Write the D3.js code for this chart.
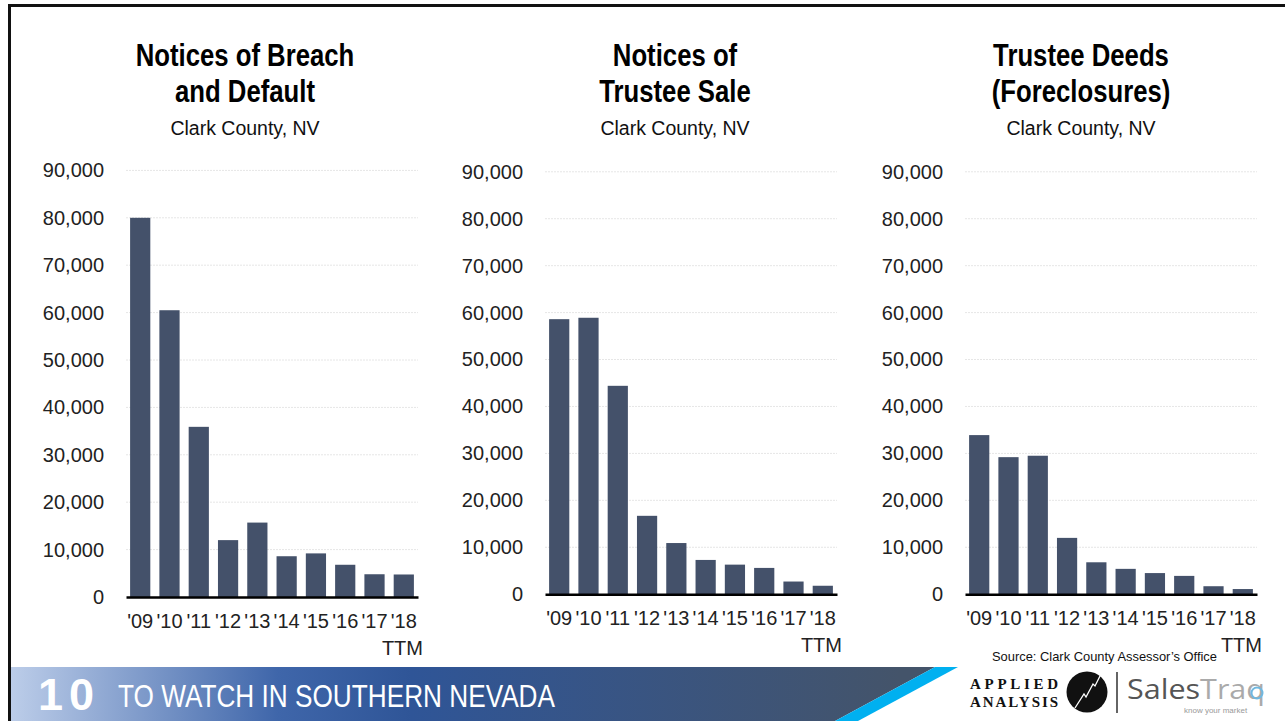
<!DOCTYPE html>
<html>
<head>
<meta charset="utf-8">
<script src="https://d3js.org/d3.v7.min.js"></script>
<style>
  html, body { margin: 0; padding: 0; background: #fff; }
  svg { display: block; font-family: "Liberation Sans", Arial, Helvetica, sans-serif; }
</style>
</head>
<body>
<script>
// data
var years = ["'09", "'10", "'11", "'12", "'13", "'14", "'15", "'16", "'17", "'18"];
var breachDefault = [80000, 60500, 35900, 12000, 15700, 8600, 9200, 6800, 4800, 4750];
var trusteeSale = [58600, 58900, 44400, 16700, 10900, 7300, 6300, 5600, 2700, 1800];
var trusteeDeeds = [33900, 29200, 29500, 12000, 6800, 5400, 4500, 3900, 1700, 1100];
var yTicks = [0, 10000, 20000, 30000, 40000, 50000, 60000, 70000, 80000, 90000];
var titles = [["Notices of Breach", "and Default"], ["Notices of", "Trustee Sale"], ["Trustee Deeds", "(Foreclosures)"]];
var subtitle = "Clark County, NV";

var W = 1285, H = 721;
var barColor = '#44516a';

var svg = d3.select('body').append('svg')
	.attr('width', W)
	.attr('height', H);

var defs = svg.append('defs');
var grad = defs.append('linearGradient')
	.attr('id', 'bannerGrad')
	.attr('gradientUnits', 'userSpaceOnUse')
	.attr('x1', 11).attr('x2', 900).attr('y1', 0).attr('y2', 0);
grad.append('stop').attr('offset', 0).attr('stop-color', '#bccde9');
grad.append('stop').attr('offset', 0.3).attr('stop-color', '#3f66aa');
grad.append('stop').attr('offset', 0.45).attr('stop-color', '#2f5597');
grad.append('stop').attr('offset', 1).attr('stop-color', '#44546a');

// panel layout
var panels = [
	{ data: breachDefault, x0: 126, x1: 418, base: 597, top: 170.4, titleX: 245 },
	{ data: trusteeSale, x0: 545, x1: 837, base: 594.2, top: 171.8, titleX: 675 },
	{ data: trusteeDeeds, x0: 965, x1: 1257, base: 594.2, top: 171.8, titleX: 1081 }
];

panels.forEach(function (p, pi) {
	var g = svg.append('g');

	var xScale = d3.scaleBand()
		.domain(years)
		.range([p.x0, p.x1])
		.paddingInner(0.31)
		.paddingOuter(0.14);
	var yScale = d3.scaleLinear()
		.domain([0, 90000])
		.range([p.base, p.top]);

	// titles
	var t = g.append('g').attr('transform', 'translate(' + p.titleX + ',0)');
	titles[pi].forEach(function (line, li) {
		t.append('text')
			.attr('transform', 'translate(0,' + (66 + li * 36) + ') scale(0.83,1)')
			.attr('text-anchor', 'middle')
			.style('font-size', '31px')
			.style('font-weight', 'bold')
			.attr('fill', '#000')
			.text(line);
	});
	t.append('text')
		.attr('y', 135)
		.attr('text-anchor', 'middle')
		.style('font-size', '19.5px')
		.attr('fill', '#111')
		.text(subtitle);

	// gridlines
	g.selectAll('.grid')
		.data(yTicks.slice(1))
		.enter()
		.append('line')
		.attr('class', 'grid')
		.attr('x1', p.x0)
		.attr('x2', p.x1)
		.attr('y1', function (d) { return yScale(d); })
		.attr('y2', function (d) { return yScale(d); })
		.attr('stroke', '#e6e6e6')
		.attr('stroke-width', 1)
		.attr('stroke-dasharray', '2,1');

	// y axis
	var yAxis = d3.axisLeft(yScale)
		.tickValues(yTicks)
		.tickSize(0)
		.tickPadding(22)
		.tickFormat(d3.format(','));
	var ya = g.append('g')
		.attr('transform', 'translate(' + p.x0 + ',0)')
		.call(yAxis);
	ya.select('.domain').remove();
	ya.selectAll('text')
		.style('font-size', '20px')
		.style('font-family', '"Liberation Sans", Arial, sans-serif')
		.attr('fill', '#222');

	// bars
	g.selectAll('.bar')
		.data(p.data)
		.enter()
		.append('rect')
		.attr('class', 'bar')
		.attr('x', function (d, i) { return xScale(years[i]); })
		.attr('y', function (d) { return yScale(d); })
		.attr('width', xScale.bandwidth())
		.attr('height', function (d) { return p.base - yScale(d); })
		.attr('fill', barColor);

	// x axis
	var xAxis = d3.axisBottom(xScale)
		.tickSize(0)
		.tickPadding(17);
	var xa = g.append('g')
		.attr('transform', 'translate(0,' + p.base + ')')
		.call(xAxis);
	xa.select('.domain')
		.attr('stroke', '#000')
		.attr('stroke-width', 2.5);
	xa.selectAll('text')
		.style('font-size', '20px')
		.style('font-family', '"Liberation Sans", Arial, sans-serif')
		.attr('fill', '#222');

	g.append('text')
		.attr('x', p.x1 + 5)
		.attr('y', p.base + 58)
		.attr('text-anchor', 'end')
		.style('font-size', '20px')
		.attr('fill', '#222')
		.text('TTM');
});

// source note
svg.append('text')
	.attr('x', 992)
	.attr('y', 661)
	.attr('textLength', 225)
	.attr('lengthAdjust', 'spacingAndGlyphs')
	.style('font-size', '13.5px')
	.attr('fill', '#111')
	.text('Source: Clark County Assessor\u2019s Office');

// banner
svg.append('polygon')
	.attr('points', '11,667 935,667 835,721 11,721')
	.attr('fill', 'url(#bannerGrad)');
svg.append('polygon')
	.attr('points', '935,667 958,667 858,721 835,721')
	.attr('fill', '#00b0f0');
svg.append('text')
	.attr('x', 38)
	.attr('y', 710)
	.style('font-size', '45px')
	.style('font-weight', 'bold')
	.style('letter-spacing', '6px')
	.attr('fill', '#fff')
	.text('10');
svg.append('text')
	.attr('x', 118)
	.attr('y', 707)
	.attr('textLength', 437)
	.attr('lengthAdjust', 'spacingAndGlyphs')
	.style('font-size', '32px')
	.attr('fill', '#fff')
	.text('TO WATCH IN SOUTHERN NEVADA');

// logos
var logo = svg.append('g');
logo.append('text')
	.attr('x', 970).attr('y', 689)
	.attr('textLength', 88).attr('lengthAdjust', 'spacing')
	.style('font-family', '"Liberation Serif", "DejaVu Serif", serif')
	.style('font-weight', 'bold')
	.style('font-size', '15px')
	.attr('fill', '#111')
	.text('APPLIED');
logo.append('text')
	.attr('x', 970).attr('y', 707)
	.attr('textLength', 88).attr('lengthAdjust', 'spacing')
	.style('font-family', '"Liberation Serif", "DejaVu Serif", serif')
	.style('font-weight', 'bold')
	.style('font-size', '15px')
	.attr('fill', '#111')
	.text('ANALYSIS');
logo.append('circle')
	.attr('cx', 1087).attr('cy', 692).attr('r', 20.5)
	.attr('fill', '#111');
logo.append('polyline')
	.attr('points', '1075,708 1084,694 1086,697 1093,684 1095,686 1100,676')
	.attr('fill', 'none')
	.attr('stroke', '#fff')
	.attr('stroke-width', 1.3);
logo.append('line')
	.attr('x1', 1117).attr('x2', 1117).attr('y1', 672).attr('y2', 713)
	.attr('stroke', '#111').attr('stroke-width', 1.3);
var st = logo.append('text')
	.attr('x', 1127).attr('y', 699)
	.attr('textLength', 138)
	.attr('lengthAdjust', 'spacingAndGlyphs')
	.style('font-size', '28px')
	.style('font-family', '"Open Sans", "Liberation Sans", sans-serif');
st.append('tspan').attr('fill', '#555').text('Sales');
st.append('tspan').attr('fill', '#aaa').text('Traq');
logo.append('circle')
	.attr('cx', 1257).attr('cy', 693).attr('r', 5.5)
	.attr('fill', 'none').attr('stroke', '#6fb8e0').attr('stroke-width', 2);
logo.append('text')
	.attr('x', 1184).attr('y', 713)
	.style('font-size', '8px')
	.attr('fill', '#999')
	.text('know your market');

// frame
svg.append('rect').attr('x', 8).attr('y', 4).attr('width', W - 8).attr('height', 3).attr('fill', '#111');
svg.append('rect').attr('x', 8).attr('y', 4).attr('width', 3).attr('height', H - 4).attr('fill', '#111');
</script>
</body>
</html>
